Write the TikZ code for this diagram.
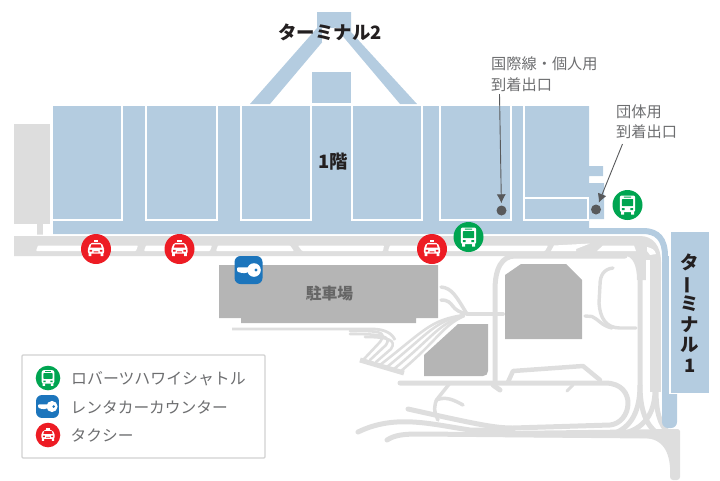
\documentclass[tikz,border=0pt]{standalone}
\usepackage{fontspec}
\usepackage{graphicx}
\setmainfont{Noto Sans CJK JP}
\usetikzlibrary{arrows.meta}
\definecolor{bluearea}{HTML}{B4CCE0}
\definecolor{roadgray}{HTML}{DEDEDE}
\definecolor{lotgray}{HTML}{B5B5B5}
\definecolor{sidegray}{HTML}{DDDDDD}
\definecolor{busgreen}{HTML}{00A551}
\definecolor{taxired}{HTML}{ED1C24}
\definecolor{keyblue}{HTML}{1C75BC}
\definecolor{labeltext}{HTML}{6D6E70}
\definecolor{titletext}{HTML}{231F20}
\definecolor{pointer}{HTML}{58595B}
\tikzset{
  x=1pt,y=-1pt,
  road/.style={draw=roadgray,line width=5,line cap=round,line join=round},
  thinroad/.style={draw=roadgray,line width=2.6,line cap=round,line join=round},
  room/.style={draw=white,line width=1.5},
  lot/.style={fill=lotgray},
  titlelabel/.style={font=\fontsize{18.4}{20}\selectfont\bfseries,text=titletext,inner sep=0},
  smalllabel/.style={font=\fontsize{15.2}{20.5}\selectfont,text=labeltext,inner sep=0,align=left},
  legendlabel/.style={font=\fontsize{15.9}{18}\selectfont,text=labeltext,inner sep=0,anchor=west},
  legendshort/.style={font=\fontsize{15.7}{18}\selectfont,text=labeltext,inner sep=0,anchor=west},
  exitdot/.style={circle,fill=pointer,minimum size=10,inner sep=0},
  pointerline/.style={draw=pointer,line width=0.9,-{Latex[length=9,width=9,fill=pointer]},shorten >=2},
  busicon/.pic={
    \fill[busgreen] (0,0) circle (15);
    \fill[white,rounded corners=2] (-7.7,-9.5) rectangle (7.7,7);
    \fill[white] (-6.5,6.5) rectangle (-3.5,9.5) (3.5,6.5) rectangle (6.5,9.5);
    \fill[busgreen,rounded corners=0.6] (-5.6,-6) rectangle (5.6,1.2);
    \fill[busgreen] (-5.6,3.2) rectangle (-2.8,5) (2.8,3.2) rectangle (5.6,5) (-3.6,-8.3) rectangle (3.6,-7.4);
  },
  taxiicon/.pic={
    \fill[taxired] (0,0) circle (15);
    \begin{scope}[scale=0.78,yshift=1pt]
    \fill[white] (-2.6,-10) rectangle (2.6,-7.6);
    \fill[white,rounded corners=2] (-7.5,-7) -- (7.5,-7) -- (9.5,-1) -- (10.5,1) -- (10.5,7) -- (-10.5,7) -- (-10.5,1) -- (-9.5,-1) -- cycle;
    \fill[white] (-9.5,6) rectangle (-6,10) (6,6) rectangle (9.5,10);
    \fill[taxired] (-5.8,-5) -- (5.8,-5) -- (7.3,-0.8) -- (-7.3,-0.8) -- cycle;
    \fill[taxired] (-8.2,2) rectangle (-5,4.2) (5,2) rectangle (8.2,4.2) (-3,4) rectangle (3,5.2);
    \end{scope}
  },
  keyicon/.pic={
    \fill[keyblue,rounded corners=6] (-14,-14) rectangle (14,14);
    \fill[white] (5.5,0) circle (6.8);
    \fill[white,rounded corners=1] (-11.5,-2.6) -- (2,-2.6) -- (2,2.2) -- (-2,2.2) -- (-3,3.6) -- (-4.5,2.4) -- (-6,3.6) -- (-7.5,2.4) -- (-10,2.4) -- (-11.5,1) -- cycle;
    \fill[keyblue] (7.5,0) circle (1.7);
  },
}
\begin{document}
\begin{tikzpicture}
\useasboundingbox (0,0) rectangle (720,480);
% terminal 2 wings
\fill[bluearea] (250,104) -- (317,28) -- (317,12) -- (351,12) -- (351,32) -- (417,104) -- (400,104) -- (335,27) -- (270,104) -- cycle;
\fill[white] (322,27.5) rectangle (341,42);
\fill[bluearea] (312,72) rectangle (351,103);
% blue strip to terminal 1
\fill[bluearea] (589,228) -- (643,228) .. controls (660,228) and (668,238) .. (668,256) -- (677,256) -- (677,300) -- (662,300) -- (662,256) .. controls (662,240) and (655,234) .. (643,234) -- (589,234) -- cycle;
% main building
\fill[bluearea] (53,106) -- (589,106) -- (589,166) -- (603,166) -- (603,176) -- (589,176) -- (589,183) -- (604,183) -- (604,219) -- (589,219) -- (589,234) -- (53,234) -- cycle;
\draw[room] (122,105.5) -- (122,220) -- (53,220);
\draw[room] (122,105.5) -- (146,105.5) (146,105.5) -- (146,220) -- (217,220) -- (217,105.5) -- (241,105.5) -- (241,220) -- (311,220) -- (311,105.5) -- (352,105.5) -- (352,220) -- (422,220) -- (422,105.5) -- (440,105.5) -- (440,220) -- (511,220) -- (511,105.5) -- (524,105.5) -- (524,220) -- (589,220);
\draw[room] (524,198) -- (588,198) -- (588,220);
% side block
\fill[sidegray] (14,124) rectangle (50,224);
\fill[sidegray] (37,224) rectangle (43,237);
% right-hand vertical roads
\draw[road,line cap=butt] (640,265) -- (640,385) .. controls (640,410) and (632,428) .. (612,434);
\draw[road,line cap=butt] (640,385) .. controls (640,410) and (646,425) .. (658,434);
\draw[draw=roadgray,line width=10.5] (655.5,255) -- (655.5,392);
\draw[road,line cap=butt] (655,390) .. controls (655,412) and (645,430) .. (620,434);
\draw[road,line cap=butt] (656,390) .. controls (656,412) and (660,425) .. (668,432);
% main road
\fill[white] (14,234.7) -- (640,234.7) .. controls (654,234.7) and (662,245) .. (662,262) -- (644,262) -- (14,257) -- cycle;
\fill[roadgray] (14,236) -- (640,236) .. controls (653,236) and (661,246) .. (661,262) -- (661,280) -- (637,280) .. controls (637,264) and (632,256) .. (625,256) -- (14,256) -- cycle;
\fill[white] (646,260) rectangle (650,395);
\fill[white,rounded corners=0.8] (36,251) -- (38,245.5) -- (138,245.5) -- (136,251) -- cycle;
\fill[white,rounded corners=0.8] (144,251) -- (146,245.5) -- (212,245.5) -- (210,251) -- cycle;
\fill[white,rounded corners=0.8] (216,251) -- (218,245.5) -- (290,245.5) -- (294,251) -- cycle;
\fill[white,rounded corners=0.8] (302,251) -- (298,245.5) -- (384,245.5) -- (383,251) -- cycle;
\fill[white,rounded corners=0.8] (388,251) -- (390,245.5) -- (548,245.5) -- (545,251) -- cycle;
\fill[white] (551,251) -- (554,245.5) -- (590,243.5) -- (576,249) -- (576,251) -- cycle;
\fill[white] (597,251) -- (603,245.5) -- (634,245.5) -- (636,251) -- cycle;
\fill[white] (647,247) .. controls (652,248) and (655,250) .. (656,254) -- (650,255) -- (647,251) -- cycle;
% parking and lots
\fill[lot] (219,265) -- (438,265) -- (438,318) -- (416,318) -- (416,323) -- (241,323) -- (241,318) -- (219,318) -- cycle;
\draw[draw=roadgray,line width=2.8] (232,329) -- (372,329) .. controls (384,329) and (392,333) .. (395,340);
\fill[lot] (505,275) -- (521,264) -- (566,264) -- (582,280) -- (582,339) -- (505,339) -- cycle;
\fill[lot] (424,355) -- (458,324) -- (488,324) -- (488,371) .. controls (488,374) and (486,376) .. (483,376) -- (424,376) -- cycle;
% roads south of the parking
\draw[road,line width=4] (503,314) -- (467,314);
\draw[thinroad,line width=3.5] (441,287) .. controls (452,288) and (456,296) .. (467,314);
\draw[thinroad,line width=3.5] (441,300) .. controls (456,300) and (448,312) .. (470,314);
\draw[thinroad] (464,315) .. controls (430,320) and (425,330) .. (380,365);
\draw[thinroad] (464,315) .. controls (434,322) and (430,332) .. (387,367);
\draw[thinroad] (464,316) .. controls (438,324) and (434,336) .. (394,369);
\draw[thinroad] (464,316) .. controls (442,326) and (438,340) .. (401,371);
\draw[thinroad] (350,331) .. controls (378,331) and (388,331) .. (380,342) -- (364,359);
\draw[thinroad] (350,334) .. controls (382,334) and (392,336) .. (386,345) -- (370,360);
\draw[thinroad] (365,337) .. controls (388,337) and (397,340) .. (391,349) -- (376,362);
\draw[roadgray,line width=5] (360,360) -- (404,373);
% vertical road and loop
\draw[road] (625,256) -- (515,256) .. controls (502,256) and (495,268) .. (495,290) -- (495,383);
\draw[road] (400,383) -- (605,383) .. controls (622,383) and (628,394) .. (628,403) .. controls (628,415) and (620,424) .. (610,425) -- (513,428) .. controls (495,428) and (480,425) .. (408,409);
\draw[road] (493,385) -- (500,390);
\draw[road,line width=3] (567,391) -- (573,385);
\draw[road,line width=4.5] (508,382) -- (513,371) -- (583,366) -- (600,380);
\draw[road,line width=3.5] (450,383) -- (438,398) .. controls (433,405) and (434,412) .. (438,420);
\draw[road,line width=3.5] (436,400) .. controls (446,396) and (454,400) .. (463,405);
\draw[road] (358,432) .. controls (395,414) and (430,424) .. (470,430) -- (513,430);
\draw[road] (387,440) .. controls (395,435) and (403,434) .. (420,434) -- (650,436);
\fill[roadgray,rounded corners=3] (500,431) -- (675,429) .. controls (678,429) and (680,431) .. (680,434) -- (680,480) -- (670,480) .. controls (671,455) and (665,438) .. (640,438) -- (500,437) -- cycle;
% right loop
\draw[road,line width=3.4] (613,268) .. controls (604,269) and (600,275) .. (600,285) -- (599,303) .. controls (600,318) and (606,328) .. (620,328) -- (636,328);
\draw[road,line width=3.4] (585,316) -- (592,316.5) .. controls (598,319) and (602,326) .. (612,328);
% strip end and terminal 1 box
\fill[bluearea,rounded corners=6] (662,280) -- (677,280) -- (677,428) -- (662,428) -- cycle;
\fill[bluearea,draw=white,line width=1.6] (670,231) rectangle (709.5,393.5);
% legend
\draw[draw=black!18,line width=1.3,rounded corners=1] (22,355) rectangle (265,458);
% labels
\node[titlelabel] (t2) at (330,32) {ターミナル2};
\node[titlelabel] (floor) at (333.5,162) {1階};
\node[titlelabel,align=center,font=\fontsize{18.4}{20.7}\selectfont\bfseries] (t1) at (690,313) {タ\\\rotatebox[origin=c]{90}{ー}\\ミ\\ナ\\ル\\1};
\node[font=\fontsize{15.8}{18}\selectfont\bfseries,text=black!60,inner sep=0] (lotlabel) at (329.5,293) {駐車場};
\node[smalllabel,anchor=north west] (intl) at (491,57) {国際線・個人用\\到着出口};
\node[smalllabel,anchor=north west] (group) at (616,104.5) {団体用\\到着出口};
% exits and pointers
\node[exitdot] (exita) at (501.5,210.5) {};
\node[exitdot] (exitb) at (596,209.5) {};
\coordinate (starta) at (499.5,94);
\coordinate (startb) at (622.5,144);
\draw[pointerline] (starta) -- (exita);
\draw[pointerline] (startb) -- (exitb);
% icons
\pic at (627.5,205) {busicon};
\pic at (468.5,237) {busicon};
\pic at (96,249) {taxiicon};
\pic at (179.5,249) {taxiicon};
\pic at (432,249) {taxiicon};
\pic at (248.5,270) {keyicon};
\pic[scale=0.82] at (48,378) {busicon};
\pic[scale=0.82] at (47.5,406.5) {keyicon};
\pic[scale=0.82] at (48,435) {taxiicon};
\node[legendlabel] (lega) at (71,379) {ロバーツハワイシャトル};
\node[legendshort] (legb) at (70.5,407) {レンタカーカウンター};
\node[legendshort] (legc) at (70.5,435) {タクシー};
\end{tikzpicture}
\end{document}
